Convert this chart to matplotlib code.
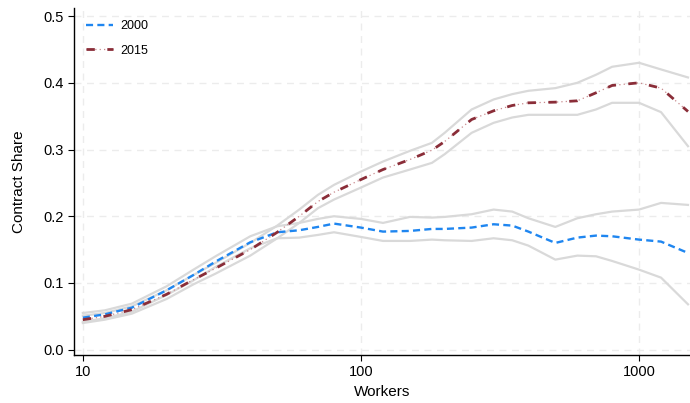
import numpy as np
import matplotlib.pyplot as plt
from matplotlib.ticker import FixedLocator, NullLocator, FormatStrFormatter

plt.rcParams['font.family'] = ['Liberation Sans', 'DejaVu Sans']

# firm size (number of workers)
workers = [10, 12, 15, 20, 25, 30, 40, 50, 60, 70, 80, 100, 120, 150, 180, 200,
           250, 300, 350, 400, 500, 600, 700, 800, 1000, 1200, 1500]

share_2000 = [0.048, 0.053, 0.063, 0.089, 0.112, 0.132, 0.161, 0.176, 0.179, 0.184,
              0.189, 0.183, 0.177, 0.178, 0.181, 0.181, 0.183, 0.188, 0.186, 0.177,
              0.160, 0.168, 0.171, 0.170, 0.165, 0.162, 0.145]
hi_2000 = [0.055, 0.059, 0.069, 0.095, 0.120, 0.140, 0.170, 0.185, 0.190, 0.196,
           0.200, 0.196, 0.190, 0.199, 0.198, 0.199, 0.203, 0.210, 0.207, 0.197,
           0.184, 0.197, 0.203, 0.207, 0.210, 0.220, 0.217]
lo_2000 = [0.042, 0.047, 0.057, 0.082, 0.104, 0.124, 0.152, 0.167, 0.168, 0.172,
           0.176, 0.169, 0.163, 0.163, 0.165, 0.164, 0.163, 0.167, 0.164, 0.156,
           0.135, 0.141, 0.140, 0.133, 0.120, 0.108, 0.068]

share_2015 = [0.045, 0.050, 0.060, 0.083, 0.105, 0.122, 0.150, 0.176, 0.200, 0.222,
              0.236, 0.255, 0.270, 0.285, 0.299, 0.312, 0.345, 0.358, 0.366, 0.370,
              0.371, 0.373, 0.385, 0.396, 0.400, 0.392, 0.357]
hi_2015 = [0.051, 0.055, 0.065, 0.089, 0.112, 0.130, 0.160, 0.186, 0.210, 0.232,
           0.247, 0.267, 0.282, 0.298, 0.310, 0.325, 0.360, 0.375, 0.383, 0.388,
           0.392, 0.400, 0.412, 0.424, 0.430, 0.420, 0.408]
lo_2015 = [0.040, 0.045, 0.054, 0.076, 0.098, 0.114, 0.141, 0.167, 0.190, 0.212,
           0.225, 0.243, 0.258, 0.270, 0.280, 0.293, 0.325, 0.340, 0.348, 0.352,
           0.352, 0.352, 0.360, 0.370, 0.370, 0.356, 0.305]

fig = plt.figure(figsize=(6.9, 4.03), dpi=100)
ax = fig.add_axes([0.107, 0.119, 0.893, 0.861])

ci_color = '#d9d9d9'
for band in (hi_2000, lo_2000, hi_2015, lo_2015):
    ax.plot(workers, band, color=ci_color, lw=1.6, zorder=2)

l2000, = ax.plot(workers, share_2000, color='#1f86f0', lw=1.7,
                 dashes=(3, 1.8), zorder=4)
dots, = ax.plot(workers, share_2015, color='#c98a8e', lw=0.9,
                dashes=(1, 2.5), zorder=3)
l2015, = ax.plot(workers, share_2015, color='#8a2d38', lw=2.0,
                 dashes=(3, 4.5), zorder=4)

ax.set_xscale('log')
ax.set_xlim(9.28, 1525)
ax.set_ylim(-0.008, 0.512)
ax.xaxis.set_major_locator(FixedLocator([10, 100, 1000]))
ax.xaxis.set_minor_locator(NullLocator())
ax.xaxis.set_major_formatter(FormatStrFormatter('%d'))
ax.set_yticks([0.0, 0.1, 0.2, 0.3, 0.4, 0.5])
ax.yaxis.set_major_formatter(FormatStrFormatter('%.1f'))

ax.grid(True, color='#ececec', lw=1.0, ls=(0, (5, 4)), zorder=0)
for s in ('top', 'right'):
    ax.spines[s].set_visible(False)
for s in ('left', 'bottom'):
    ax.spines[s].set_linewidth(1.0)
ax.tick_params(direction='out', length=4, width=0.8, labelsize=10.5,
               colors='black')

ax.set_xlabel('Workers', fontsize=11, labelpad=4)
ax.set_ylabel('Contract Share', fontsize=11, labelpad=12)

ax.legend([l2000, (dots, l2015)], ['2000', '2015'], loc='upper left',
          frameon=False, fontsize=9, handlelength=2.2, handletextpad=0.6,
          labelspacing=1.0, borderaxespad=0.3, bbox_to_anchor=(0.005, 0.99))

fig.savefig('out.png', dpi=100)
